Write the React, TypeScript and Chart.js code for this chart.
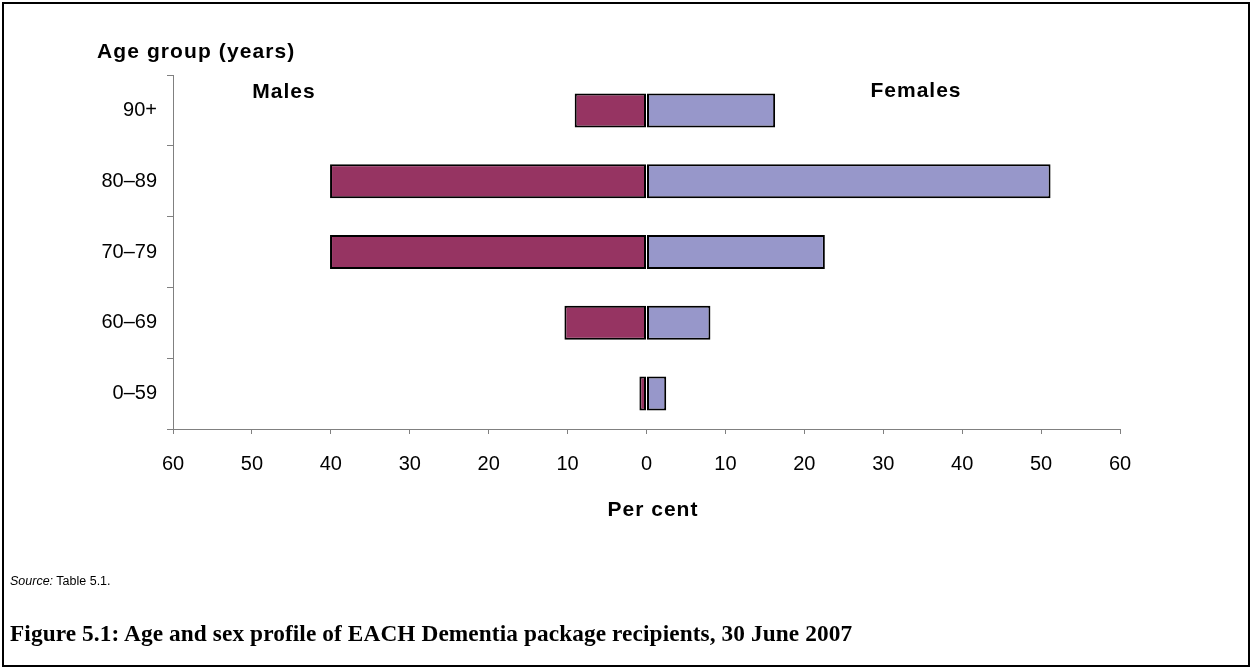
import React, { useEffect, useRef } from "react";
import { Chart, registerables } from "chart.js";

Chart.register(...registerables);

// ---- data ----
const ageGroups = ["90+", "80–89", "70–79", "60–69", "0–59"];
const malesPct = [9.1, 40.1, 40.1, 10.4, 0.9];
const femalesPct = [16.3, 51.2, 22.6, 8.1, 2.5];
const axisMin = -60;
const axisMax = 60;
const axisStep = 10;

const W = 1259;
const H = 669;
const SANS = "'Liberation Sans', Arial, sans-serif";

export default function App() {
  const canvasRef = useRef<HTMLCanvasElement | null>(null);

  useEffect(() => {
    const canvas = canvasRef.current;
    if (!canvas) return;
    const chart = new Chart(canvas, {
      type: "bar",
      data: {
        labels: ageGroups,
        datasets: [
          {
            label: "Males",
            data: malesPct.map((v) => -v),
            backgroundColor: "#963462",
            borderColor: "#000000",
            borderWidth: 2,
            borderSkipped: false,
            categoryPercentage: 1,
            barPercentage: 0.48,
          },
          {
            label: "Females",
            data: femalesPct,
            backgroundColor: "#9797CA",
            borderColor: "#000000",
            borderWidth: 2,
            borderSkipped: false,
            categoryPercentage: 1,
            barPercentage: 0.48,
          },
        ],
      },
      options: {
        indexAxis: "y",
        responsive: false,
        maintainAspectRatio: false,
        animation: false,
        devicePixelRatio: 1,
        layout: { padding: { left: 0, right: 139, top: 75, bottom: 190 } },
        plugins: {
          legend: { display: false },
          tooltip: { enabled: false },
        },
        scales: {
          x: {
            type: "linear",
            min: axisMin,
            max: axisMax,
            stacked: true,
            ticks: {
              stepSize: axisStep,
              autoSkip: false,
              maxRotation: 0,
              padding: 18,
              color: "#000",
              font: { family: SANS, size: 20 },
              callback: (v: any) => String(Math.abs(Number(v))),
            },
            grid: {
              drawOnChartArea: false,
              drawTicks: true,
              tickLength: 5,
              color: "#808080",
              lineWidth: 1,
            },
            border: { color: "#808080", width: 1 },
            afterFit: (s: any) => {
              s.height = 50;
            },
          },
          y: {
            stacked: true,
            ticks: {
              padding: 10,
              color: "#000",
              font: { family: SANS, size: 20 },
            },
            grid: {
              drawOnChartArea: false,
              drawTicks: true,
              tickLength: 6,
              color: "#808080",
              lineWidth: 1,
              offset: true,
            },
            border: { color: "#808080", width: 1 },
            afterFit: (s: any) => {
              s.width = 173;
            },
          },
        },
      },
    });
    return () => chart.destroy();
  }, []);

  const bold = {
    position: "absolute" as const,
    fontFamily: SANS,
    fontWeight: 700,
    fontSize: 21,
    lineHeight: "21px",
    letterSpacing: "1px",
    whiteSpace: "nowrap" as const,
    color: "#000",
  };

  return (
    <div
      style={{
        position: "absolute",
        left: 0,
        top: 0,
        width: W,
        height: H,
        background: "#fff",
        overflow: "hidden",
      }}
    >
      <div
        style={{
          position: "absolute",
          left: 2,
          top: 2,
          width: 1244,
          height: 661,
          border: "2px solid #000",
        }}
      />
      <canvas
        ref={canvasRef}
        width={W}
        height={H}
        style={{ position: "absolute", left: 0, top: 0, width: W, height: H }}
      />
      <div style={{ ...bold, left: 97, top: 40, letterSpacing: "1.1px" }}>
        Age group (years)
      </div>
      <div style={{ ...bold, left: 284, top: 80, transform: "translateX(-50%)" }}>
        Males
      </div>
      <div style={{ ...bold, left: 916, top: 79, transform: "translateX(-50%)" }}>
        Females
      </div>
      <div style={{ ...bold, left: 653, top: 498, transform: "translateX(-50%)" }}>
        Per cent
      </div>
      <div
        style={{
          position: "absolute",
          left: 10,
          top: 575,
          fontFamily: SANS,
          fontSize: 12.5,
          lineHeight: "12px",
          whiteSpace: "nowrap",
          color: "#000",
        }}
      >
        <i>Source:</i> Table 5.1.
      </div>
      <div
        style={{
          position: "absolute",
          left: 10,
          top: 622,
          fontFamily: "'Liberation Serif', 'Times New Roman', serif",
          fontWeight: 700,
          fontSize: 23.3,
          lineHeight: "23px",
          letterSpacing: "0.1px",
          whiteSpace: "nowrap",
          color: "#000",
        }}
      >
        Figure 5.1: Age and sex profile of EACH Dementia package recipients, 30 June 2007
      </div>
    </div>
  );
}
